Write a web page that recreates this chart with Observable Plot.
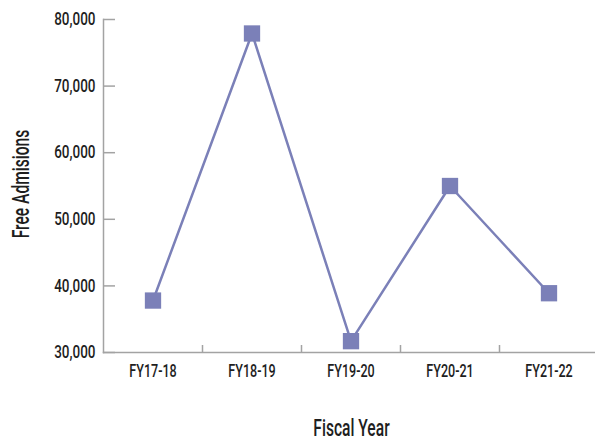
<!DOCTYPE html>
<html>
<head>
<meta charset="utf-8">
<script src="https://cdn.jsdelivr.net/npm/d3@7"></script>
<script src="https://cdn.jsdelivr.net/npm/@observablehq/plot@0.6"></script>
<style>
  html, body { margin: 0; padding: 0; background: #fff; }
  #chart svg { display: block; }
</style>
</head>
<body>
<div id="chart"></div>
<script>
const years = ["FY17-18", "FY18-19", "FY19-20", "FY20-21", "FY21-22"];
const admissions = [37800, 77900, 31700, 55000, 38900];
const yTicks = [30000, 40000, 50000, 60000, 70000, 80000];

const data = years.map((year, i) => ({year, value: admissions[i]}));

const W = 595, H = 442;
const mL = 103, mT = 19, mB = 90;
const xRange = [mL, 598];
const half = (xRange[1] - xRange[0]) / years.length / 2;
const color = "#7b80b8";
const axisColor = "#a3a3a3";
const textColor = "#1e1e1e";
const font = 'Roboto, "Liberation Sans", sans-serif';

const chart = Plot.plot({
  width: W,
  height: H,
  marginLeft: mL,
  marginRight: 0,
  marginTop: mT,
  marginBottom: mB,
  style: {fontFamily: font, fontWeight: 500, color: textColor, background: "#fff"},
  x: {type: "band", domain: years, range: xRange, padding: 0},
  y: {domain: [30000, 80000]},
  marks: [
    Plot.axisY({ticks: yTicks, tickSize: 0, tickPadding: 8, tickFormat: d3.format(","), fontSize: 18, fill: textColor, label: null}),
    Plot.axisY({ticks: yTicks, tickSize: 12, dx: 12, text: null, stroke: axisColor, strokeWidth: 1.5, label: null}),
    Plot.axisX({tickSize: 0, tickPadding: 11, fontSize: 18.5, fill: textColor, label: null}),
    Plot.axisX({ticks: years.slice(1), tickSize: 7, dx: -half, dy: -7, text: null, stroke: axisColor, strokeWidth: 1.5, label: null}),
    Plot.frame({anchor: "left", stroke: axisColor, strokeWidth: 1.5}),
    Plot.frame({anchor: "bottom", stroke: axisColor, strokeWidth: 1.5}),
    Plot.line(data, {x: "year", y: "value", stroke: color, strokeWidth: 2.5}),
    Plot.dot(data, {x: "year", y: "value", symbol: "square", r: 9.2, fill: color, stroke: "none"}),
    Plot.text(["Fiscal Year"], {frameAnchor: "bottom", lineAnchor: "middle", dx: 2, dy: 76, fontSize: 24, fill: textColor, text: d => d}),
    Plot.text(["Free Admisions"], {frameAnchor: "left", textAnchor: "middle", lineAnchor: "middle", dx: -82, dy: -2, rotate: -90, fontSize: 24, fill: textColor, text: d => d})
  ]
});

// condense text horizontally around its own anchor x (text stays real text)
const squeezeFor = label =>
  label === "y-axis tick label" ? 0.75 :
  label === "x-axis tick label" ? 0.68 : 0.65;
d3.select(chart).selectAll("text").each(function() {
  const g = this.closest("g[aria-label]");
  const s = squeezeFor(g ? g.getAttribute("aria-label") : "");
  const xa = this.getAttribute("x");
  const x = xa && !/em/.test(xa) ? +xa : 0;
  const t = this.getAttribute("transform") || "";
  this.setAttribute("transform", `${t} translate(${x},0) scale(${s},1) translate(${-x},0)`);
});

document.getElementById("chart").appendChild(chart);
</script>
</body>
</html>
